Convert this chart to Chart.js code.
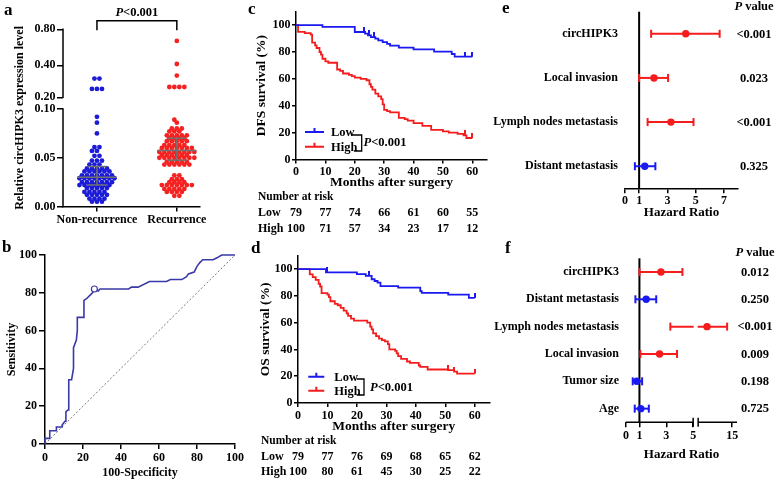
<!DOCTYPE html>
<html><head><meta charset="utf-8">
<script src="https://cdn.jsdelivr.net/npm/chart.js@4.4.0/dist/chart.umd.min.js"></script>
<style>
html,body{margin:0;padding:0;background:#fff;}
#wrap{position:relative;width:777px;height:482px;overflow:hidden;background:#fff;}
canvas{position:absolute;}
.lbl{position:absolute;font:bold 17px 'Liberation Serif','Times New Roman',serif;line-height:17px;color:#000;}
</style></head><body><div id="wrap">
<canvas id="ca" width="255" height="232" style="left:0;top:0;width:255px;height:232px"></canvas>
<canvas id="cb" width="255" height="250" style="left:0;top:232px;width:255px;height:250px"></canvas>
<canvas id="cc" width="250" height="240" style="left:250px;top:0;width:250px;height:240px"></canvas>
<canvas id="cd" width="250" height="242" style="left:250px;top:240px;width:250px;height:242px"></canvas>
<canvas id="ce" width="297" height="232" style="left:480px;top:0;width:297px;height:232px"></canvas>
<canvas id="cf" width="297" height="242" style="left:480px;top:240px;width:297px;height:242px"></canvas>
<div class="lbl" style="left:4px;top:1px">a</div>
<div class="lbl" style="left:2px;top:238px">b</div>
<div class="lbl" style="left:248px;top:0px">c</div>
<div class="lbl" style="left:251px;top:239px">d</div>
<div class="lbl" style="left:502px;top:-1px">e</div>
<div class="lbl" style="left:505px;top:239px">f</div>
</div>
<script>
// ================= DATA =================
// Panel a (relative circHIPK3 expression, one value per dot)
const groupLabels = ['Non-recurrence', 'Recurrence'];
const nonRecurrence = [0.30, 0.30,
  0.24, 0.24, 0.24,
  0.092, 0.086, 0.075,
  0.061, 0.061, 0.057, 0.057, 0.052, 0.052,
  0.047, 0.047, 0.047, 0.043, 0.043, 0.043,
  0.039, 0.039, 0.039, 0.039, 0.039,
  0.036, 0.036, 0.036, 0.036, 0.036, 0.036,
  0.032, 0.032, 0.032, 0.032, 0.032, 0.032, 0.032,
  0.029, 0.029, 0.029, 0.029, 0.029, 0.029, 0.029, 0.029,
  0.025, 0.025, 0.025, 0.025, 0.025, 0.025, 0.025,
  0.022, 0.022, 0.022, 0.022, 0.022, 0.022, 0.022,
  0.019, 0.019, 0.019, 0.019, 0.019,
  0.015, 0.015, 0.015, 0.015, 0.015,
  0.012, 0.012, 0.012, 0.012, 0.012,
  0.008, 0.008, 0.008, 0.008,
  0.005, 0.005, 0.005];
const recurrence = [0.64, 0.41, 0.32,
  0.25, 0.25, 0.25, 0.25,
  0.089, 0.086,
  0.080, 0.080, 0.080,
  0.077, 0.077, 0.077,
  0.073, 0.073, 0.073, 0.073, 0.073,
  0.070, 0.070, 0.070, 0.070,
  0.067, 0.067, 0.067, 0.067, 0.067,
  0.063, 0.063, 0.063, 0.063, 0.063,
  0.060, 0.060, 0.060, 0.060, 0.060, 0.060, 0.060,
  0.056, 0.056, 0.056, 0.056, 0.056, 0.056, 0.056, 0.056,
  0.053, 0.053, 0.053, 0.053, 0.053, 0.053,
  0.050, 0.050, 0.050, 0.050, 0.050, 0.050, 0.050, 0.050,
  0.046, 0.046, 0.046, 0.046, 0.046,
  0.043, 0.043, 0.043, 0.043, 0.043, 0.043,
  0.032, 0.032,
  0.028, 0.028, 0.028,
  0.025, 0.025, 0.025, 0.025,
  0.022, 0.022, 0.022, 0.022, 0.022, 0.022, 0.022,
  0.018, 0.018, 0.018, 0.018, 0.018,
  0.015, 0.015, 0.015, 0.015,
  0.011, 0.011];
const nonRecSummary = [0.022, 0.030, 0.041];   // lower, centre, upper
const recSummary = [0.0475, 0.0575, 0.070];
const aTickValues = [0, 0.05, 0.10, 0.20, 0.40, 0.80];

// Panel b (ROC)
const rocX = [0,0,2.5,2.5,6,6,9,9,10.5,11,11,12,12.5,12.5,14,15,15,16.5,17,17,20,20.5,22,24,25,26,28,29,44,45.5,49,55,64,66,72,74.5,75.5,78.5,80,81.5,83,88.5,90.5,93,100];
const rocY = [0,3,3,7,7,9,9,10,12,12,17,18,18,34,34,40,51,55,60,67,67,76,77,79,80,82,81,82,82,83,83,86,86,87,87,88.5,90,91,94,96,97.5,97.5,98.5,100,100];
const rocCutoff = [26, 82];
const rocTicks = [0, 20, 40, 60, 80, 100];

// Panels c, d (Kaplan-Meier)
const kmMonths = [0, 10, 20, 30, 40, 50, 60];
const survTicks = [0, 20, 40, 60, 80, 100];
const dfsLowT = [0, 9, 20, 23.5, 24.5, 25.5, 27, 28, 29.5, 31, 32, 35, 40, 47, 53, 54, 60];
const dfsLowS = [100, 98.7, 94.9, 93.7, 92.4, 91.1, 89.9, 88.6, 87.3, 86.0, 84.8, 83.3, 81.9, 80.3, 78.5, 76.5, 76.5];
const dfsLowCensor = [23, 25, 26.5, 57.5, 60];
const dfsHighT = [0,0.7,3,5,5.5,6.5,7,8,8.5,9,10,11,14,15,16,18,19,20,22,24,25,25.5,26,27,28,29,29.5,30,31,32,35,37,38,40,43,46,50,52,55,57,58,60];
const dfsHighS = [100,95,94,93,87,85,83,80,78,75,73,72,67,66,64,63,62,61,60,59,56,54,52,49,47,45,41,37,36,35,31,30,29,27,25,22,21,20,19,18,16,16];
const dfsHighCensor = [57.5, 60];
const dfsRiskLow = [79, 77, 74, 66, 61, 60, 55];
const dfsRiskHigh = [100, 71, 57, 34, 23, 17, 12];

const osLowT = [0, 9.5, 20, 23, 25, 26, 27, 28, 34, 41.5, 42, 51, 58, 60];
const osLowS = [100, 97.5, 96.2, 94.9, 92.4, 91.1, 89.9, 87.3, 86.1, 83.5, 82.3, 81.0, 78.5, 78.5];
const osLowCensor = [10, 24, 60];
const osHighT = [0,4,5,6,7,7.5,8,10,10.5,11,12.5,13.5,14.5,15.5,16.5,17,18,19,23.5,24.5,25,25.5,26.5,27.5,28.5,29.5,30.5,31,33,33.5,34,35,37,38,41,41.5,44,51,53,54,60];
const osHighS = [100,96,94,92,89,87,82,81,79,76,74,73,71,69,67,65,63,61.5,60,57,55,52,50,48,47,46,44,40,39,37,35,33,31,30,28,27,25,24.5,23.5,22,22];
const osHighCensor = [51, 53, 60];
const osRiskLow = [79, 77, 76, 69, 68, 65, 62];
const osRiskHigh = [100, 80, 61, 45, 30, 25, 22];

// Panels e, f (forest)
const eFactors = ['circHIPK3', 'Local invasion', 'Lymph nodes metastasis', 'Distant metastasis'];
const eHR = [4.3, 2.05, 3.25, 1.4];
const eLow = [1.85, 1.0, 1.6, 0.7];
const eHigh = [6.7, 3.05, 4.85, 2.15];
const eP = ['<0.001', '0.023', '<0.001', '0.325'];
const eXTicks = [0, 1, 3, 5, 7];

const fFactors = ['circHIPK3', 'Distant metastasis', 'Lymph nodes metastasis', 'Local invasion', 'Tumor size', 'Age'];
const fHR = [2.6, 1.5, 7.6, 2.5, 0.8, 1.1];
const fLow = [1.0, 0.7, 3.3, 1.07, 0.5, 0.65];
const fHigh = [4.2, 2.25, 13.5, 3.8, 1.2, 1.7];
const fP = ['0.012', '0.250', '<0.001', '0.009', '0.198', '0.725'];
const fXTicks = [0, 1, 3, 5, 15];

// ================= STYLE =================
const SERIF = "'Liberation Serif','Times New Roman',serif";
const RED = '#f41c1c', BLUE = '#1a1af0';
const RED_DOT = '#f52222', BLUE_DOT = '#1c1cd6';
const ROC_COL = '#3a3aa6', GREY = '#707070';
Chart.defaults.font.family = SERIF;
Chart.defaults.font.weight = 'bold';
Chart.defaults.font.size = 12;
Chart.defaults.color = '#000';
Chart.defaults.animation = false;
Chart.defaults.events = [];
Chart.defaults.plugins.legend.display = false;
Chart.defaults.plugins.tooltip.enabled = false;

function axis(o) {
  const a = {
    type: 'linear', min: o.min, max: o.max, position: o.position, reverse: !!o.reverse,
    afterBuildTicks: s => { s.ticks = o.ticks.map(v => ({ value: v })); },
    afterFit: s => {
      if (o.width != null) { s.width = o.width; s.paddingTop = 0; s.paddingBottom = 0; }
      if (o.height != null) { s.height = o.height; s.paddingLeft = 0; s.paddingRight = 0; }
    },
    grid: o.noTicks ? { display: false, drawTicks: false } :
      { display: true, drawOnChartArea: false, drawTicks: true, tickLength: o.tl, color: '#000', lineWidth: 1.5 },
    border: { display: o.border !== false, color: '#000', width: 1.5 },
    ticks: { padding: o.pad, autoSkip: false, maxRotation: 0, minRotation: 0, color: '#000',
      font: { family: SERIF, size: o.fs || 12, weight: 'bold' } },
    title: o.title ? { display: true, text: o.title, color: '#000',
      font: { family: SERIF, size: o.tfs || 12, weight: 'bold' }, padding: o.tpad } : { display: false }
  };
  if (o.labels) a.ticks.callback = (v, i) => o.labels[i];
  return a;
}
function drawP(ctx, x, y, rest, size, align) {
  const fi = 'italic bold ' + size + 'px ' + SERIF, fb = 'bold ' + size + 'px ' + SERIF;
  ctx.font = fi; const w1 = ctx.measureText('P').width;
  ctx.font = fb; const w2 = ctx.measureText(rest).width;
  const x0 = align === 'center' ? x - (w1 + w2) / 2 : x;
  ctx.textBaseline = 'middle'; ctx.textAlign = 'left'; ctx.fillStyle = '#000';
  ctx.font = fi; ctx.fillText('P', x0, y);
  ctx.font = fb; ctx.fillText(rest, x0 + w1, y);
}

// ================= PANEL a =================
// broken axis: linear 0–0.10, log 0.20–0.80
function tA(v) {
  if (v <= 0.10) return v * 975;
  if (v < 0.20) return 97.5 + (v - 0.10) / 0.10 * 11.7;
  const l = Math.log2(v / 0.20);
  return l <= 1 ? 109.2 + l * 32 : 141.2 + (l - 1) * 36;
}
function summaryDatasets(c, s) {
  const seg = (x0, y0, x1, y1) => ({ data: [{ x: x0, y: y0 }, { x: x1, y: y1 }], showLine: true,
    borderColor: GREY, borderWidth: 1.5, pointRadius: 0, order: 0 });
  return [seg(c - 0.245, tA(s[1]), c + 0.245, tA(s[1])),
    seg(c - 0.12, tA(s[0]), c + 0.12, tA(s[0])),
    seg(c - 0.12, tA(s[2]), c + 0.12, tA(s[2])),
    seg(c, tA(s[0]), c, tA(s[2]))];
}
const aPlugin = {
  id: 'aDeco',
  afterDraw(chart) {
    const { ctx, chartArea: ca, scales: { x, y } } = chart;
    ctx.save();
    ctx.strokeStyle = '#000'; ctx.lineWidth = 1.5;
    const seg = (v0, v1) => { ctx.beginPath(); ctx.moveTo(ca.left, y.getPixelForValue(tA(v0)) + 0.75);
      ctx.lineTo(ca.left, y.getPixelForValue(tA(v1)) - 0.75); ctx.stroke(); };
    seg(0, 0.10); seg(0.20, 0.80);
    const x1 = x.getPixelForValue(1), x2 = x.getPixelForValue(2), yb = ca.top - 8.5, yl = ca.top + 1;
    ctx.beginPath(); ctx.moveTo(x1, yl); ctx.lineTo(x1, yb); ctx.lineTo(x2, yb); ctx.lineTo(x2, yl); ctx.stroke();
    drawP(ctx, (x1 + x2) / 2, yb - 8, '<0.001', 12.5, 'center');
    ctx.restore();
  }
};
// Prism-like scatter: equal values share a row; neighbouring rows are staggered by half a slot
function rowSwarm(chart, dsIndex, center, spacing) {
  const ds = chart.data.datasets[dsIndex];
  const xs = chart.scales.x, ys = chart.scales.y;
  const ppu = xs.getPixelForValue(center + 1) - xs.getPixelForValue(center);
  const groups = new Map();
  ds.data.forEach((p, i) => { const k = p.y.toFixed(5); if (!groups.has(k)) groups.set(k, []); groups.get(k).push(i); });
  const rows = [...groups.entries()].map(([k, idx]) => ({ py: ys.getPixelForValue(parseFloat(k)), idx }))
    .sort((a, b) => b.py - a.py);
  let prevPy = null, prevOff = 0;
  rows.forEach(r => {
    const n = r.idx.length;
    let off = (n % 2 === 0) ? 0.5 : 0;
    if (prevPy !== null && Math.abs(prevPy - r.py) < spacing) off = 0.5 - prevOff;
    const slots = [];
    for (let j = -12; j <= 12; j++) slots.push(j + off);
    slots.sort((a, b) => Math.abs(a) - Math.abs(b) || a - b);
    r.idx.forEach((di, j) => { ds.data[di].x = center + slots[j] * spacing / ppu; });
    prevPy = r.py; prevOff = off;
  });
}
const chartA = new Chart(document.getElementById('ca'), {
  type: 'scatter',
  data: { datasets: [
    { data: nonRecurrence.map(v => ({ x: 1, y: tA(v) })), pointRadius: 2.4, pointBackgroundColor: BLUE_DOT, pointBorderWidth: 0, order: 5 },
    { data: recurrence.map(v => ({ x: 2, y: tA(v) })), pointRadius: 2.4, pointBackgroundColor: RED_DOT, pointBorderWidth: 0, order: 5 },
    ...summaryDatasets(1, nonRecSummary), ...summaryDatasets(2, recSummary)
  ] },
  options: {
    responsive: false, devicePixelRatio: 1,
    layout: { padding: { left: 0, top: 29.3, right: 55, bottom: 0.5 } },
    scales: {
      x: axis({ min: 0.575, max: 2.29, position: 'bottom', ticks: [1, 2], labels: groupLabels, height: 25, tl: 5, pad: 1.3 }),
      y: axis({ min: 0, max: tA(0.80), position: 'left', ticks: aTickValues.map(tA), labels: aTickValues.map(v => v.toFixed(2)),
        width: 63, tl: 6, pad: 1.5, border: false, title: 'Relative circHIPK3 expression level', tfs: 12, tpad: { top: 12.8, bottom: 0 } })
    }
  },
  plugins: [aPlugin]
});
rowSwarm(chartA, 0, 1, 5.0);
rowSwarm(chartA, 1, 2, 5.0);
chartA.update('none');

// ================= PANEL b =================
new Chart(document.getElementById('cb'), {
  type: 'scatter',
  data: { datasets: [
    { type: 'line', data: [{ x: 0, y: 0 }, { x: 100, y: 100 }], borderColor: '#777', borderWidth: 1, borderDash: [2, 2], pointRadius: 0, order: 3 },
    { type: 'line', data: rocX.map((v, i) => ({ x: v, y: rocY[i] })), borderColor: ROC_COL, borderWidth: 1.6, pointRadius: 0, tension: 0, clip: false, order: 2 },
    { data: [{ x: rocCutoff[0], y: rocCutoff[1] }], pointRadius: 3, pointBackgroundColor: '#fff', pointBorderColor: ROC_COL, pointBorderWidth: 1.2, order: 1 }
  ] },
  options: {
    responsive: false, devicePixelRatio: 1,
    layout: { padding: { left: 0, top: 23, right: 20, bottom: 0 } },
    scales: {
      x: axis({ min: 0, max: 100, position: 'bottom', ticks: rocTicks, height: 38, tl: 5, pad: 1.8, title: '100-Specificity', tfs: 12, tpad: { top: 0, bottom: 1.8 } }),
      y: axis({ min: 0, max: 100, position: 'left', ticks: rocTicks, width: 45, tl: 6, pad: 2, title: 'Sensitivity', tfs: 12, tpad: { top: 4.8, bottom: 0 } })
    }
  }
});

// ================= PANELS c, d =================
function tickImage(color) {
  const c = document.createElement('canvas'); c.width = 2; c.height = 10;
  const g = c.getContext('2d'); g.fillStyle = color; g.fillRect(0, 0, 2, 5); return c;
}
function stepAt(T, S, t) { let v = S[0]; for (let i = 0; i < T.length; i++) if (T[i] <= t) v = S[i]; return v; }
function makeKM(id, o) {
  const plugin = {
    id: 'km' + id,
    afterDraw(chart) {
      const { ctx, scales: { x } } = chart; const L = o.legend, T = o.table;
      ctx.save();
      [[L.yLow, BLUE], [L.yHigh, RED]].forEach(([yy, c]) => {
        ctx.strokeStyle = c; ctx.lineWidth = 2; ctx.beginPath();
        ctx.moveTo(L.x0, yy); ctx.lineTo(L.x1, yy);
        ctx.moveTo((L.x0 + L.x1) / 2, yy); ctx.lineTo((L.x0 + L.x1) / 2, yy - 4); ctx.stroke();
      });
      ctx.fillStyle = '#000'; ctx.font = 'bold 12.5px ' + SERIF; ctx.textBaseline = 'middle'; ctx.textAlign = 'left';
      ctx.fillText('Low', L.tx, L.yLow + 1); ctx.fillText('High', L.tx, L.yHigh + 1.5);
      ctx.strokeStyle = '#000'; ctx.lineWidth = 1.3; ctx.beginPath();
      ctx.moveTo(L.bx0, L.by0); ctx.lineTo(L.bx, L.by0); ctx.lineTo(L.bx, L.by1); ctx.lineTo(L.bx1, L.by1); ctx.stroke();
      drawP(ctx, L.px, L.py, '<0.001', 12.5, 'left');
      ctx.fillStyle = '#000'; ctx.textBaseline = 'middle';
      ctx.font = 'bold 11.5px ' + SERIF; ctx.textAlign = 'left'; ctx.fillText('Number at risk', T.x, T.y0);
      ctx.font = 'bold 12px ' + SERIF; ctx.fillText('Low', T.x, T.y1); ctx.fillText('High', T.x, T.y2);
      ctx.textAlign = 'center';
      kmMonths.forEach((m, i) => {
        const px = x.getPixelForValue(m);
        ctx.fillText(String(o.riskLow[i]), px, T.y1); ctx.fillText(String(o.riskHigh[i]), px, T.y2);
      });
      ctx.restore();
    }
  };
  // 'before' = horizontal first, then drop at the event time
  const curve = (T, S, c) => ({ type: 'line', data: T.map((t, i) => ({ x: t, y: S[i] })), stepped: 'before',
    borderColor: c, borderWidth: 1.8, pointRadius: 0, clip: false, order: 2 });
  const cens = (C, T, S, c) => ({ data: C.map(t => ({ x: t, y: stepAt(T, S, t) })), pointStyle: tickImage(c),
    pointRadius: 3, clip: false, order: 1 });
  new Chart(document.getElementById(id), {
    type: 'scatter',
    data: { datasets: [curve(o.lowT, o.lowS, BLUE), curve(o.highT, o.highS, RED),
      cens(o.lowC, o.lowT, o.lowS, BLUE), cens(o.highC, o.highT, o.highS, RED)] },
    options: {
      responsive: false, devicePixelRatio: 1,
      layout: { padding: o.padding },
      scales: {
        x: axis({ min: 0, max: 65, position: 'bottom', ticks: kmMonths, height: 32, tl: 4, pad: o.xpad,
          title: 'Months after surgery', tfs: 13.5, tpad: { top: 0, bottom: o.xtpad } }),
        y: axis({ min: 0, max: 110, position: 'left', ticks: survTicks, width: o.yWidth, tl: 4, pad: 1.5,
          title: o.yTitle, tfs: 13.5, tpad: { top: o.ytpad, bottom: 0 } })
      }
    },
    plugins: [plugin]
  });
}
makeKM('cc', {
  lowT: dfsLowT, lowS: dfsLowS, lowC: dfsLowCensor, highT: dfsHighT, highS: dfsHighS, highC: dfsHighCensor,
  riskLow: dfsRiskLow, riskHigh: dfsRiskHigh, yTitle: 'DFS survival (%)',
  padding: { left: 0, top: 11.7, right: 13, bottom: 48.5 }, yWidth: 46, xpad: 1, xtpad: 0.7, ytpad: 3.9,
  legend: { x0: 55, x1: 74, yLow: 132, yHigh: 146.7, tx: 81, bx0: 101, by0: 135, bx: 111.7, by1: 151, bx1: 104, px: 113.5, py: 142.7 },
  table: { x: 8, y0: 197, y1: 213, y2: 228.7 }
});
makeKM('cd', {
  lowT: osLowT, lowS: osLowS, lowC: osLowCensor, highT: osHighT, highS: osHighS, highC: osHighCensor,
  riskLow: osRiskLow, riskHigh: osRiskHigh, yTitle: 'OS survival (%)',
  padding: { left: 0, top: 15.7, right: 10.5, bottom: 47 }, yWidth: 48, xpad: 1.5, xtpad: 0, ytpad: 7.1,
  legend: { x0: 58.3, x1: 74.3, yLow: 136.7, yHigh: 150.7, tx: 84.3, bx0: 106.7, by0: 139, bx: 114, by1: 155, bx1: 106.7, px: 120, py: 147.3 },
  table: { x: 11, y0: 201, y1: 217.3, y2: 231.7 }
});

// ================= PANELS e, f =================
function makeForest(id, o) {
  const T = o.T;
  const sig = o.p.map(s => s.charAt(0) === '<' || parseFloat(s) < 0.05);
  const col = sig.map(s => s ? RED : BLUE);
  const bars = o.hr.map((h, i) => ({ type: 'line', data: [{ x: T(o.lo[i]), y: i }, { x: T(o.hi[i]), y: i }],
    borderColor: col[i], borderWidth: 2, pointStyle: 'line', pointRotation: 90, pointRadius: 4,
    pointBorderWidth: 2, pointBorderColor: col[i], clip: false, order: 2 }));
  const dots = { data: o.hr.map((h, i) => ({ x: T(h), y: i })), pointRadius: 3.7, pointBackgroundColor: col,
    pointBorderWidth: 0, clip: false, order: 1 };
  const plugin = {
    id: 'forest' + id,
    beforeDatasetsDraw(chart) {
      const { ctx, chartArea: ca, scales: { x } } = chart;
      const x1 = x.getPixelForValue(T(1));
      ctx.save(); ctx.strokeStyle = '#000'; ctx.lineWidth = 2;
      ctx.beginPath(); ctx.moveTo(x1, ca.top); ctx.lineTo(x1, ca.bottom); ctx.stroke(); ctx.restore();
    },
    afterDatasetsDraw(chart) {
      if (!o.brk) return;
      const { ctx, scales: { x, y } } = chart;
      const b0 = x.getPixelForValue(T(o.brk[0])), b1 = x.getPixelForValue(o.brk[1]);
      ctx.save(); ctx.fillStyle = '#fff';
      o.hr.forEach((h, i) => { if (o.lo[i] < o.brk[0] && o.hi[i] > o.brk[0]) ctx.fillRect(b0 + 0.5, y.getPixelForValue(i) - 2, b1 - b0 - 1, 4); });
      ctx.restore();
    },
    afterDraw(chart) {
      const { ctx, chartArea: ca, scales: { x, y } } = chart;
      ctx.save();
      if (o.brk) {
        const b0 = x.getPixelForValue(T(o.brk[0])), b1 = x.getPixelForValue(o.brk[1]), yy = ca.bottom;
        ctx.strokeStyle = '#000'; ctx.lineWidth = 1.5; ctx.beginPath();
        ctx.moveTo(ca.left, yy); ctx.lineTo(b0, yy); ctx.moveTo(b1, yy); ctx.lineTo(ca.right, yy);
        ctx.moveTo(b0, yy - 4.5); ctx.lineTo(b0, yy + 4.5); ctx.moveTo(b1, yy - 4.5); ctx.lineTo(b1, yy + 4.5);
        ctx.stroke();
      }
      const px = ca.right + o.pOff;
      drawP(ctx, px, ca.top + o.headDy, ' value', 12.5, 'center');
      ctx.font = 'bold 12.5px ' + SERIF; ctx.textAlign = 'center'; ctx.textBaseline = 'middle'; ctx.fillStyle = '#000';
      o.p.forEach((s, i) => ctx.fillText(s, px, y.getPixelForValue(i) + 0.5));
      ctx.restore();
    }
  };
  new Chart(document.getElementById(id), {
    type: 'scatter',
    data: { datasets: [...bars, dots] },
    options: {
      responsive: false, devicePixelRatio: 1,
      layout: { padding: o.padding },
      scales: {
        x: axis({ min: 0, max: o.xmax, position: 'bottom', ticks: o.xTicks.map(T), labels: o.xTicks.map(String),
          height: o.xh, tl: 5, pad: o.xpad, border: !o.brk, title: 'Hazard Ratio', tfs: 13, tpad: { top: 0, bottom: o.xtpad } }),
        y: axis({ min: -0.5, max: o.factors.length - 0.5, reverse: true, position: 'left', ticks: o.factors.map((f, i) => i),
          labels: o.factors, width: o.yWidth, noTicks: true, border: false, pad: 7, fs: 12 })
      }
    },
    plugins: [plugin]
  });
}
const tE = v => v;
const tF = v => v <= 5 ? v : 5.373 + (v - 5) * 0.2537;   // broken axis: 0–5 | 5–15 compressed
makeForest('ce', {
  factors: eFactors, hr: eHR, lo: eLow, hi: eHigh, p: eP, xTicks: eXTicks, T: tE, xmax: 8,
  padding: { left: 0, top: 11.7, right: 39, bottom: 9.7 }, yWidth: 145, xh: 34, xpad: 0.5, xtpad: 1.5,
  pOff: 16, headDy: -4.7
});
makeForest('cf', {
  factors: fFactors, hr: fHR, lo: fLow, hi: fHigh, p: fP, xTicks: fXTicks, T: tF, xmax: tF(16.4), brk: [5, 5.373],
  padding: { left: 0, top: 18.3, right: 40, bottom: 15.7 }, yWidth: 146, xh: 44, xpad: 1.2, xtpad: 4.2,
  pOff: 18, headDy: -5.6
});
</script>
</body></html>
